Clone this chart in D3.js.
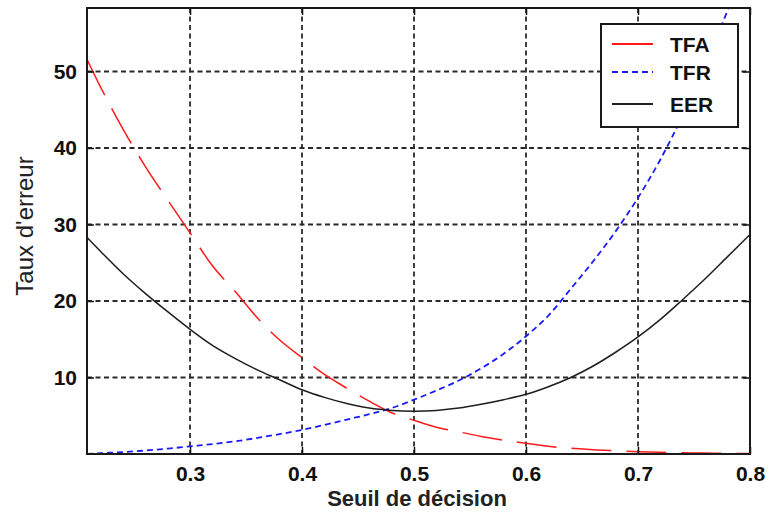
<!DOCTYPE html>
<html>
<head>
<meta charset="utf-8">
<script src="https://cdn.jsdelivr.net/npm/d3@7"></script>
<style>
  body { margin: 0; background: #fff; }
  svg { display: block; font-family: "Liberation Sans", Arial, sans-serif; }
</style>
</head>
<body>
<svg id="chart"></svg>
<script>
const width = 770, height = 513
const margin = {top: 8, right: 20, bottom: 59, left: 87}

// seuils de décision
const thresholds = [0.208, 0.22, 0.24, 0.26, 0.28, 0.30, 0.32, 0.34, 0.36, 0.38, 0.40,
    0.42, 0.44, 0.46, 0.48, 0.50, 0.52, 0.54, 0.56, 0.58, 0.60,
    0.62, 0.64, 0.66, 0.68, 0.70, 0.72, 0.74, 0.76, 0.78, 0.80]

const tfa = [51.6, 48.0, 42.5, 37.6, 33.2, 28.9, 24.6, 21.3, 17.8, 14.9, 12.6,
    10.4, 8.6, 6.9, 5.4, 4.4, 3.5, 2.9, 2.3, 1.8, 1.4,
    1.0, 0.75, 0.55, 0.42, 0.3, 0.22, 0.16, 0.12, 0.08, 0.05]

const tfr = [0.0, 0.1, 0.25, 0.45, 0.7, 1.0, 1.3, 1.65, 2.1, 2.6, 3.15,
    3.8, 4.5, 5.2, 6.0, 7.1, 8.3, 9.6, 11.2, 13.1, 15.4,
    18.1, 21.6, 25.2, 29.1, 33.5, 38.5, 44.3, 50.8, 58.0, 66.0]

const eer = [28.3, 26.5, 23.6, 21.0, 18.6, 16.3, 14.2, 12.5, 11.0, 9.7, 8.4,
    7.4, 6.6, 6.0, 5.7, 5.6, 5.7, 6.0, 6.5, 7.1, 7.8,
    8.8, 10.0, 11.5, 13.3, 15.3, 17.6, 20.2, 22.9, 25.8, 28.7]

const seriesNames = ["TFA", "TFR", "EER"]
const seriesValues = [tfa, tfr, eer]
const seriesColors = ["#ff1a1a", "#1a1aff", "#1e1e1e"]
const seriesDash = ["40,15", "6,4", null]
const seriesWidth = [1.5, 1.8, 1.5]
const legendDash = [null, "6,4", null]

const xTicks = [0.3, 0.4, 0.5, 0.6, 0.7, 0.8]
const yTicks = [10, 20, 30, 40, 50]

const innerW = width - margin.left - margin.right
const innerH = height - margin.top - margin.bottom

const svg = d3.select("svg#chart")
    .attr("width", width)
    .attr("height", height)
    .attr("viewBox", [0, 0, width, height])

const x = d3.scaleLinear().domain([0.208, 0.8]).range([margin.left, margin.left + innerW])
const y = d3.scaleLinear().domain([0, 58.3]).range([margin.top + innerH, margin.top])

svg.append("defs").append("clipPath").attr("id", "plot-clip")
    .append("rect")
    .attr("x", margin.left).attr("y", margin.top)
    .attr("width", innerW).attr("height", innerH)

// grille pointillée
const grid = svg.append("g").attr("class", "grid")
grid.selectAll("line.vx")
    .data(xTicks.slice(0, -1))
    .enter().append("line").attr("class", "vx")
    .attr("x1", d => x(d)).attr("x2", d => x(d))
    .attr("y1", margin.top).attr("y2", margin.top + innerH)
grid.selectAll("line.hy")
    .data(yTicks)
    .enter().append("line").attr("class", "hy")
    .attr("x1", margin.left).attr("x2", margin.left + innerW)
    .attr("y1", d => y(d)).attr("y2", d => y(d))
grid.selectAll("line")
    .attr("stroke", "#2a2a2a")
    .attr("stroke-width", 1.8)
    .attr("stroke-dasharray", "5,3.5")

// courbes
const line = d3.line()
    .x((d, i) => x(thresholds[i]))
    .y(d => y(d))
    .curve(d3.curveMonotoneX)

svg.append("g")
    .attr("clip-path", "url(#plot-clip)")
    .selectAll("path")
    .data(seriesValues)
    .enter().append("path")
    .attr("d", line)
    .attr("fill", "none")
    .attr("stroke", (d, i) => seriesColors[i])
    .attr("stroke-width", (d, i) => seriesWidth[i])
    .attr("stroke-dasharray", (d, i) => seriesDash[i])

// axes
const tickFont = g => g.selectAll("text")
    .attr("font-size", 21)
    .attr("font-weight", "bold")
    .attr("fill", "#111")

svg.append("g")
    .attr("transform", `translate(0, ${margin.top + innerH})`)
    .call(d3.axisBottom(x).tickValues(xTicks).tickFormat(d3.format(".1f"))
        .tickSizeInner(-7).tickSizeOuter(0).tickPadding(12))
    .call(g => g.select(".domain").remove())
    .call(tickFont)

svg.append("g")
    .attr("transform", `translate(0, ${margin.top})`)
    .call(d3.axisTop(x).tickValues(xTicks).tickSizeInner(-7).tickSizeOuter(0).tickFormat(""))
    .call(g => g.select(".domain").remove())

svg.append("g")
    .attr("transform", `translate(${margin.left}, 0)`)
    .call(d3.axisLeft(y).tickValues(yTicks).tickSizeInner(-7).tickSizeOuter(0).tickPadding(10))
    .call(g => g.select(".domain").remove())
    .call(tickFont)

svg.append("g")
    .attr("transform", `translate(${margin.left + innerW}, 0)`)
    .call(d3.axisRight(y).tickValues(yTicks).tickSizeInner(-7).tickSizeOuter(0).tickFormat(""))
    .call(g => g.select(".domain").remove())

svg.selectAll(".tick line").attr("stroke", "#111").attr("stroke-width", 1.5)

svg.append("rect")
    .attr("x", margin.left).attr("y", margin.top)
    .attr("width", innerW).attr("height", innerH)
    .attr("fill", "none")
    .attr("stroke", "#1a1a1a")
    .attr("stroke-width", 2)

// titres des axes
svg.append("text")
    .attr("x", 417).attr("y", 506)
    .attr("text-anchor", "middle")
    .attr("font-size", 22)
    .attr("font-weight", "bold")
    .attr("fill", "#222")
    .text("Seuil de décision")

svg.append("text")
    .attr("transform", "translate(33, 226) rotate(-90)")
    .attr("text-anchor", "middle")
    .attr("font-size", 24)
    .attr("fill", "#222")
    .text("Taux d'erreur")

// légende
const legend = svg.append("g")
legend.append("rect")
    .attr("x", 601).attr("y", 24)
    .attr("width", 137).attr("height", 103)
    .attr("fill", "#fff")
    .attr("stroke", "#1a1a1a")
    .attr("stroke-width", 2)

const rowY = [44, 72, 104]
const rows = legend.selectAll("g.legend")
    .data(seriesNames)
    .enter().append("g").attr("class", "legend")

rows.append("line")
    .attr("x1", 612).attr("x2", 653)
    .attr("y1", (d, i) => rowY[i]).attr("y2", (d, i) => rowY[i])
    .attr("stroke", (d, i) => seriesColors[i])
    .attr("stroke-width", 2)
    .attr("stroke-dasharray", (d, i) => legendDash[i])

rows.append("text")
    .attr("x", 670)
    .attr("y", (d, i) => rowY[i] + 8)
    .attr("font-size", 21)
    .attr("font-weight", "bold")
    .attr("fill", "#111")
    .text(d => d)
</script>
</body>
</html>
